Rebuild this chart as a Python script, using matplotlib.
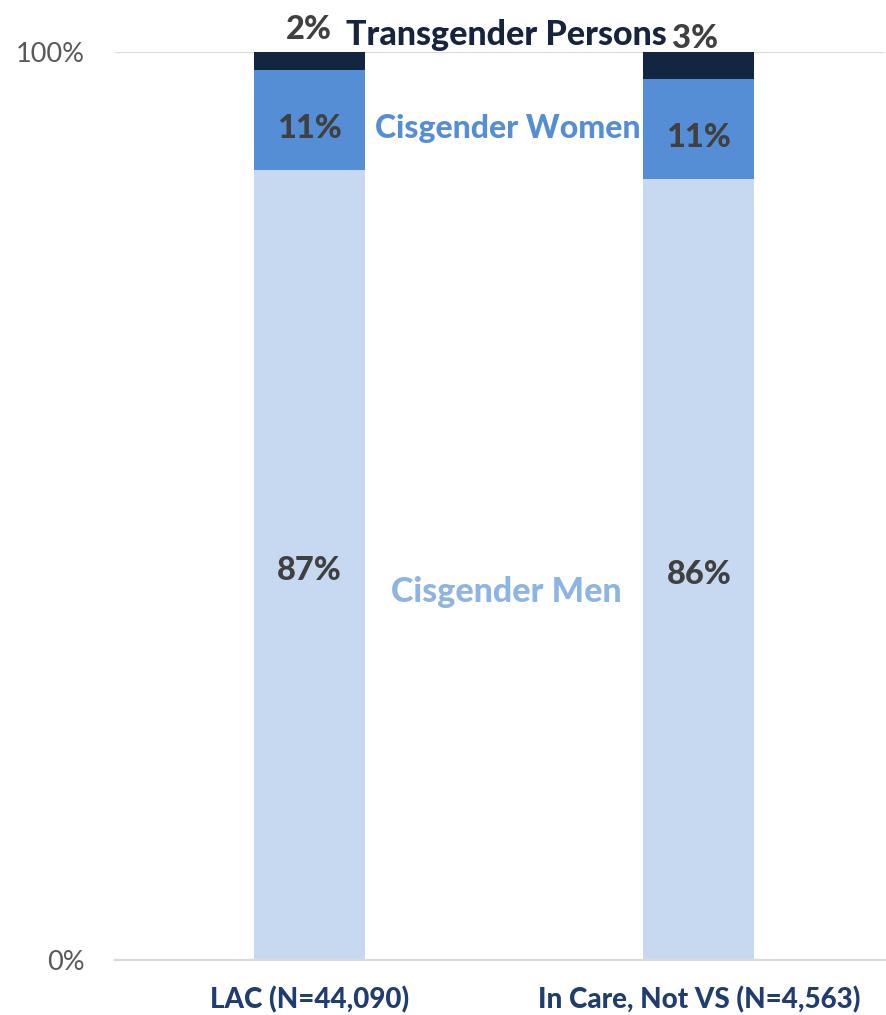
import matplotlib
matplotlib.use("Agg")
import matplotlib.pyplot as plt
import numpy as np

# Gender breakdown per group (percent)
groups = ["LAC (N=44,090)", "In Care, Not VS (N=4,563)"]
cis_men = [87, 86]
cis_women = [11, 11]
transgender = [2, 3]

series_names = ["Cisgender Men", "Cisgender Women", "Transgender Persons"]
colors = ["#C6D9F0", "#558ED5", "#13263F"]
name_colors = ["#8DB4E2", "#558ED5", "#16243E"]

plt.rcParams["font.family"] = ["Lato", "DejaVu Sans"]

fig = plt.figure(figsize=(8.87, 10.15), dpi=100)
ax = fig.add_axes([115 / 887, 55 / 1015, 770 / 887, 908 / 1015])

x = np.arange(len(groups))
width = 0.285
bottom = np.zeros(len(groups))
for vals, col in zip([cis_men, cis_women, transgender], colors):
    ax.bar(x, vals, width, bottom=bottom, color=col, zorder=2)
    bottom += np.array(vals)

ax.set_xlim(-0.499, 1.478)
ax.set_ylim(0, 100)
ax.set_yticks([0, 100])
ax.set_yticklabels(["0%", "100%"], fontsize=19.5, color="#595959")
ax.yaxis.grid(True, color="#D9D9D9", linewidth=1.5, zorder=0)
ax.set_xticks(x)
ax.set_xticklabels(groups, fontsize=20, fontweight="black", color="#1F3D6E")
ax.tick_params(axis="both", length=0)
ax.tick_params(axis="x", pad=19)
ax.tick_params(axis="y", pad=22)
for s in ["top", "right", "left"]:
    ax.spines[s].set_visible(False)
ax.spines["bottom"].set_color("#D9D9D9")
ax.spines["bottom"].set_linewidth(1.5)

# value labels, nudged a little below the segment middle
val_kw = dict(ha="center", va="center_baseline", fontsize=23.5, fontweight="black", color="#404040")
for i in range(len(groups)):
    ax.text(x[i], cis_men[i] / 2 - 0.3, f"{cis_men[i]}%", **val_kw)
    ax.text(x[i], cis_men[i] + cis_women[i] / 2 - 0.6, f"{cis_women[i]}%", **val_kw)
ax.text(x[0], 102.7, f"{transgender[0]}%", clip_on=False, **val_kw)
ax.text(x[1] - 0.01, 101.8, f"{transgender[1]}%", clip_on=False, **val_kw)

# series names between the bars
name_kw = dict(ha="center", va="center_baseline", fontweight="black")
ax.text(0.505, 40.9, series_names[0], color=name_colors[0], fontsize=24.5, **name_kw)
ax.text(0.51, 91.9, series_names[1], color=name_colors[1], fontsize=23, **name_kw)
ax.text(0.505, 102.2, series_names[2], color=name_colors[2], fontsize=24.5,
        clip_on=False, **name_kw)

fig.savefig("out.png", dpi=100)
